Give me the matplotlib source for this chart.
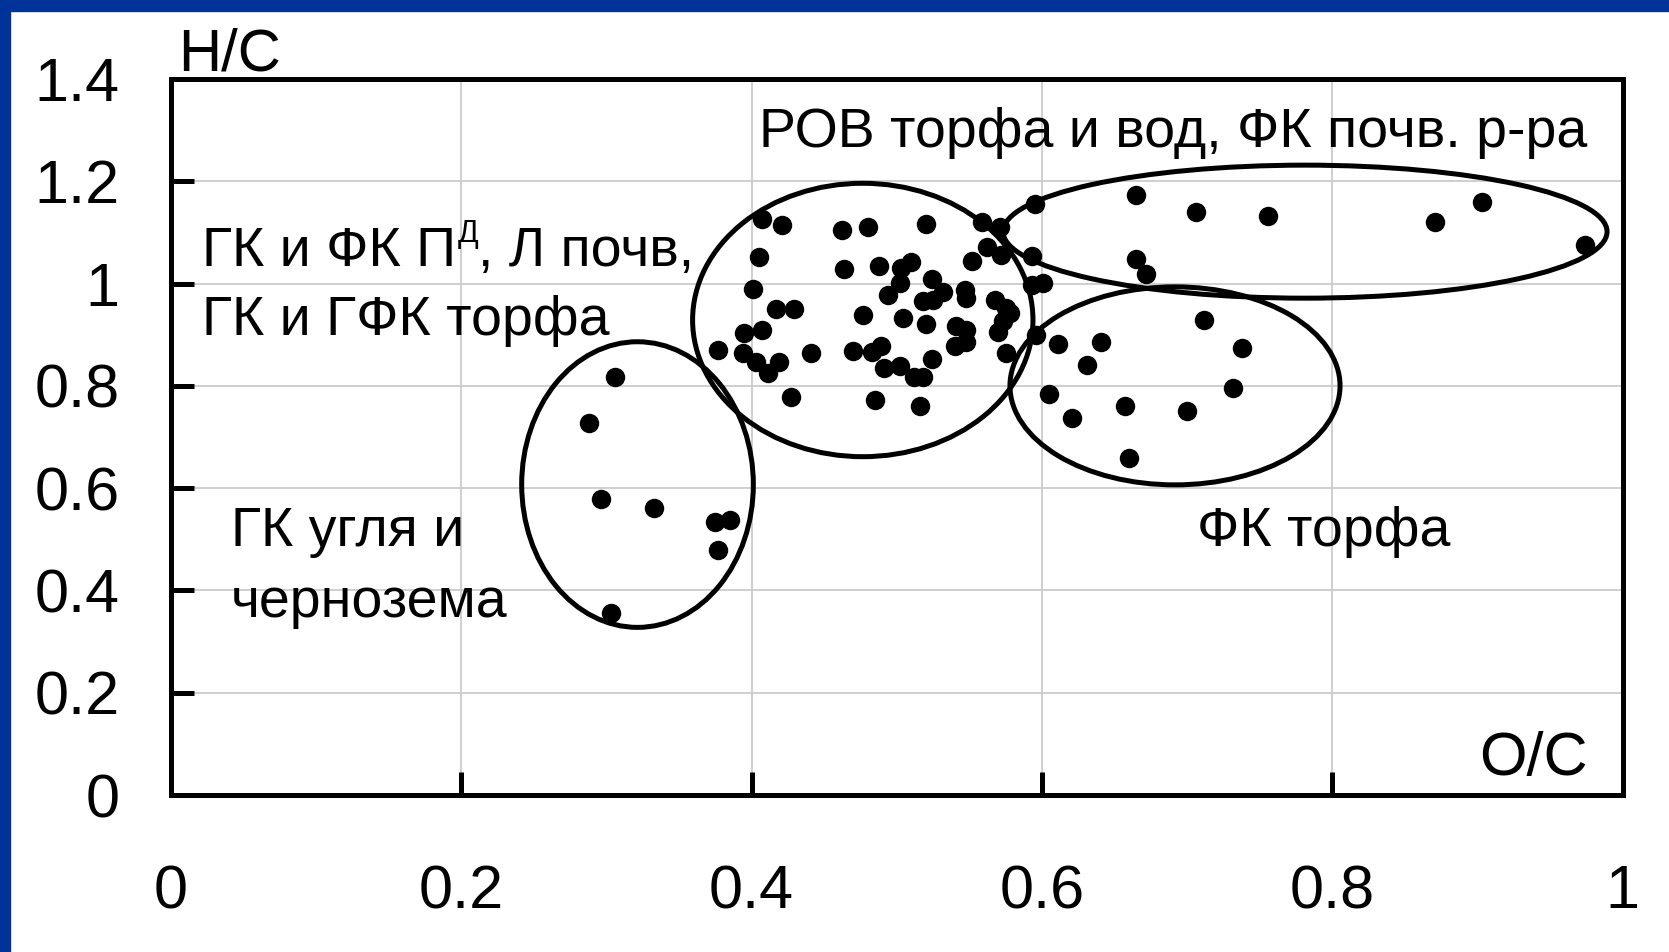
import matplotlib
matplotlib.use("Agg")
import matplotlib.pyplot as plt
from matplotlib.patches import Ellipse, Rectangle
from matplotlib.transforms import offset_copy

plt.rcParams['font.family'] = ['Liberation Sans', 'DejaVu Sans']

# ---- data: O/C (x) and H/C (y) atomic ratios ----
coal_oc = [0.306, 0.288, 0.296, 0.333, 0.375, 0.385, 0.377, 0.303]
coal_hc = [0.818, 0.727, 0.578, 0.561, 0.533, 0.538, 0.480, 0.355]

soil_oc = [0.407, 0.421, 0.462, 0.480, 0.520,
           0.405, 0.464, 0.488, 0.503, 0.510,
           0.401, 0.502, 0.524, 0.494, 0.532, 0.518, 0.525, 0.547, 0.548,
           0.417, 0.429, 0.477, 0.504, 0.520, 0.541, 0.548, 0.548, 0.540,
           0.395, 0.407, 0.377, 0.394, 0.403, 0.419, 0.411, 0.441, 0.470, 0.483, 0.489,
           0.524, 0.491, 0.502, 0.512, 0.518,
           0.427, 0.485, 0.516,
           0.559, 0.571, 0.562, 0.572, 0.552, 0.593,
           0.568, 0.575, 0.578, 0.573, 0.570, 0.575,
           0.593, 0.601, 0.595]
soil_hc = [1.126, 1.115, 1.104, 1.110, 1.116,
           1.051, 1.029, 1.034, 1.030, 1.043,
           0.989, 1.001, 1.008, 0.978, 0.984, 0.965, 0.968, 0.988, 0.971,
           0.950, 0.950, 0.938, 0.933, 0.920, 0.917, 0.909, 0.886, 0.877,
           0.904, 0.909, 0.870, 0.864, 0.847, 0.846, 0.825, 0.864, 0.869, 0.867, 0.877,
           0.852, 0.834, 0.838, 0.818, 0.817,
           0.778, 0.772, 0.761,
           1.121, 1.110, 1.071, 1.056, 1.045, 1.054,
           0.968, 0.952, 0.942, 0.926, 0.906, 0.864,
           0.997, 1.001, 1.156]

dom_oc = [0.665, 0.706, 0.756, 0.871, 0.903, 0.974, 0.665, 0.672]
dom_hc = [1.173, 1.139, 1.132, 1.121, 1.160, 1.076, 1.048, 1.018]

fa_oc = [0.596, 0.611, 0.641, 0.712, 0.738, 0.631, 0.605, 0.732, 0.621, 0.657, 0.700, 0.660]
fa_hc = [0.899, 0.881, 0.886, 0.928, 0.875, 0.841, 0.784, 0.795, 0.738, 0.761, 0.750, 0.658]

# group outlines: (centre O/C, centre H/C, width, height)
groups = [
    (0.3214, 0.607, 0.1596, 0.5585),
    (0.4766, 0.9288, 0.2345, 0.5346),
    (0.7813, 1.1015, 0.4161, 0.2601),
    (0.6917, 0.800, 0.2274, 0.3872),
]

x_ticks = [0, 0.2, 0.4, 0.6, 0.8, 1.0]
x_labels = ['0', '0.2', '0.4', '0.6', '0.8', '1']
y_ticks = [0, 0.2, 0.4, 0.6, 0.8, 1.0, 1.2, 1.4]
y_labels = ['0', '0.2', '0.4', '0.6', '0.8', '1', '1.2', '1.4']

W, H = 1669, 952
fig = plt.figure(figsize=(W / 100, H / 100), dpi=100)
fig.patch.set_facecolor('white')
ax = fig.add_axes([171 / W, 1 - 795 / H, (1622.5 - 171) / W, (795 - 79) / H])
ax.set_xlim(0, 1)
ax.set_ylim(0, 1.4)

ax.grid(True, color='#cccccc', linewidth=1.3)
ax.set_axisbelow(True)

for sp in ax.spines.values():
    sp.set_linewidth(3.6)
    sp.set_color('black')

ax.set_xticks(x_ticks)
ax.set_xticklabels(x_labels)
ax.set_yticks(y_ticks)
ax.set_yticklabels(y_labels)
ax.tick_params(axis='both', direction='in', length=16.5, width=3.6, labelsize=44, color='black')
ax.tick_params(axis='y', pad=37)
ax.tick_params(axis='x', pad=50)

all_oc = coal_oc + soil_oc + dom_oc + fa_oc
all_hc = coal_hc + soil_hc + dom_hc + fa_hc
ax.scatter(all_oc, all_hc, s=196, color='black', zorder=3, linewidths=0)

for cx, cy, w, h in groups:
    ax.add_patch(Ellipse((cx, cy), w, h, fill=False, edgecolor='black', linewidth=3.6, zorder=4))

fs = 40
ax.text(0.005, 1.4157, 'H/C', fontsize=43, ha='left', va='baseline', clip_on=False)
ax.text(0.976, 0.039, 'O/C', fontsize=44, ha='right', va='baseline')
ax.text(0.976, 1.267, 'РОВ торфа и вод, ФК почв. р-ра', fontsize=fs, ha='right', va='baseline')

# line with superscript, assembled from pieces
renderer = fig.canvas.get_renderer()
t1 = ax.text(0.0214, 1.0344, 'ГК и ФК П', fontsize=fs, ha='left', va='baseline')
w1 = t1.get_window_extent(renderer).width * 72 / fig.dpi
tr_sup = offset_copy(t1.get_transform(), fig=fig, x=w1 + 1, y=17, units='points')
t2 = ax.text(0.0214, 1.0344, 'Д', fontsize=22, ha='left', va='baseline', transform=tr_sup)
w2 = t2.get_window_extent(renderer).width * 72 / fig.dpi
tr_rest = offset_copy(t1.get_transform(), fig=fig, x=w1 + w2 + 1, y=0, units='points')
ax.text(0.0214, 1.0344, ', Л почв,', fontsize=fs, ha='left', va='baseline', transform=tr_rest)

ax.text(0.0214, 0.8995, 'ГК и ГФК торфа', fontsize=fs, ha='left', va='baseline')
ax.text(0.0413, 0.487, 'ГК угля и', fontsize=fs, ha='left', va='baseline')
ax.text(0.0413, 0.348, 'чернозема', fontsize=fs, ha='left', va='baseline')
ax.text(0.7069, 0.487, 'ФК торфа', fontsize=fs, ha='left', va='baseline')

# blue frame on the left and top edges
fig.patches.append(Rectangle((0, 0), 10 / W, 1, transform=fig.transFigure, color='#003399', zorder=10))
fig.patches.append(Rectangle((0, 1 - 11 / H), 1, 11 / H, transform=fig.transFigure, color='#003399', zorder=10))

fig.savefig('out.png', dpi=100, facecolor='white')
